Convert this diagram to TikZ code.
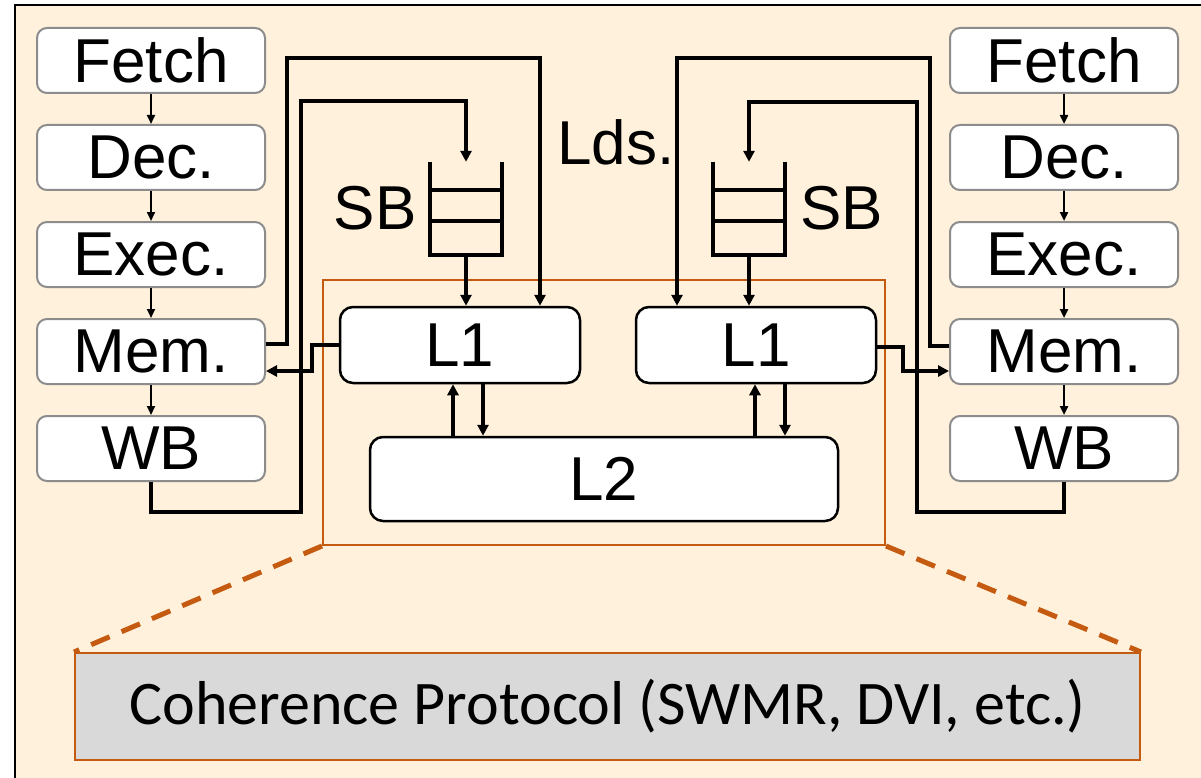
\documentclass[tikz,border=0pt]{standalone}
\usepackage{fontspec}
\setmainfont{Liberation Sans}
\newfontfamily\calibrifont{Carlito}
\usepackage{tikz}
\usetikzlibrary{positioning,arrows.meta,calc}
\definecolor{bgcream}{HTML}{FFF1DC}
\definecolor{rust}{HTML}{C55A11}
\definecolor{cohgray}{HTML}{D9D9D9}

\begin{document}
\begin{tikzpicture}[x=1pt, y=-1pt,
    every node/.style={font=\fontsize{62}{62}\selectfont, inner sep=0pt},
    stage/.style={draw=gray!90, line width=2pt, rounded corners=10pt, fill=white,
                  minimum width=228pt, minimum height=65pt},
    cache/.style={draw, line width=2.5pt, rounded corners=13pt, fill=white,
                  minimum width=240pt, minimum height=76pt},
    queuebox/.style={minimum width=72pt, minimum height=93pt},
    pipe/.style={-{Triangle[length=9pt,width=8pt]}, line width=2.2pt},
    link/.style={-{Triangle[length=11pt,width=11pt]}, line width=4pt},
    queue/.style={line width=4pt},
  ]
  \useasboundingbox (0,0) rectangle (1201,778);
  % Frame
  \fill[bgcream] (15,5) rectangle (1220,790);
  \draw[line width=2pt] (15,5) rectangle (1220,790);
  % Zoomed region and protocol box
  \node[draw=rust, line width=2pt, minimum width=562pt, minimum height=265pt] (region) at (604,412.5) {};
  \node[draw=rust, line width=2pt, fill=cohgray, minimum width=1065pt, minimum height=107pt,
        font=\calibrifont\fontsize{62}{62}\selectfont] (coh) at (607.5,706.5) {Coherence Protocol (SWMR, DVI, etc.)};
  \draw[rust, line width=5pt, dash pattern=on 20pt off 13pt] (region.south west) -- (coh.north west);
  \draw[rust, line width=5pt, dash pattern=on 20pt off 13pt] (region.south east) -- (coh.north east);
  % Left pipeline
  \node[stage] (fetchL) at (151,60.5) {Fetch};
  \node[stage, below=30pt of fetchL] (decL)  {Dec.};
  \node[stage, below=30pt of decL]   (execL) {Exec.};
  \node[stage, below=30pt of execL]  (memL)  {Mem.};
  \node[stage, below=30pt of memL]   (wbL)   {WB};
  % Right pipeline
  \node[stage] (fetchR) at (1064,60.5) {Fetch};
  \node[stage, below=30pt of fetchR] (decR)  {Dec.};
  \node[stage, below=30pt of decR]   (execR) {Exec.};
  \node[stage, below=30pt of execR]  (memR)  {Mem.};
  \node[stage, below=30pt of memR]   (wbR)   {WB};
  \foreach \a/\b in {fetchL/decL, decL/execL, execL/memL, memL/wbL,
                     fetchR/decR, decR/execR, execR/memR, memR/wbR}
    \draw[pipe] (\a) -- (\b);
  % Caches
  \node[cache] (l1L) at (460,345) {L1};
  \node[cache] (l1R) at (756,345) {L1};
  \node[cache, minimum width=468pt, minimum height=84pt] (l2) at (604,479) {L2};
  % Store buffers
  \node[queuebox] (sbL) at (466,208.5) {};
  \node[queuebox] (sbR) at (749,208.5) {};
  \foreach \q in {sbL,sbR} {
    \draw[queue] (\q.north west) -- (\q.south west) -- (\q.south east) -- (\q.north east);
    \draw[queue] ($(\q.north west)!0.3!(\q.south west)$) -- ($(\q.north east)!0.3!(\q.south east)$);
    \draw[queue] ($(\q.north west)!0.63!(\q.south west)$) -- ($(\q.north east)!0.63!(\q.south east)$);
  }
  \node[left=13pt of sbL]  (sbLlab) {SB};
  \node[right=15pt of sbR] (sbRlab) {SB};
  \node[anchor=base west] (lds) at (557,165) {Lds.};
  % Left core connectors
  \coordinate (ldL) at (287,58);
  \coordinate (stLlow) at (301,512);
  \coordinate (stLhigh) at (301,101);
  \coordinate (fillL) at (312,371);
  \draw[link] ([yshift=7.5pt]memL.east) -| (ldL) -| ([xshift=80pt]l1L.north);
  \draw[link] (wbL.south) |- (stLlow) -- (stLhigh) -| (sbL.north);
  \draw[link] (sbL.south) -- (sbL.south |- l1L.north);
  \draw[link] (l1L.west) -| (fillL) -- (fillL -| memL.east);
  % Right core connectors
  \coordinate (ldR) at (930,58);
  \coordinate (stRlow) at (917,512);
  \coordinate (stRhigh) at (917,102);
  \coordinate (fillR) at (903,371);
  \draw[link] ([yshift=5.5pt]memR.west) -| (ldR) -| ([xshift=-79pt]l1R.north);
  \draw[link] (wbR.south) |- (stRlow) -- (stRhigh) -| (sbR.north);
  \draw[link] (sbR.south) -- (sbR.south |- l1R.north);
  \draw[link] ([yshift=-2pt]l1R.east) -| (fillR) -- (fillR -| memR.west);
  % L1 <-> L2
  \coordinate (upL) at ([xshift=-7pt]l1L.south);
  \coordinate (dnL) at ([xshift=23pt]l1L.south);
  \coordinate (upR) at ([xshift=-1pt]l1R.south);
  \coordinate (dnR) at ([xshift=29pt]l1R.south);
  \draw[link] (upL |- l2.north) -- (upL);
  \draw[link] (dnL) -- (dnL |- l2.north);
  \draw[link] (upR |- l2.north) -- (upR);
  \draw[link] (dnR) -- (dnR |- l2.north);
\end{tikzpicture}
\end{document}
